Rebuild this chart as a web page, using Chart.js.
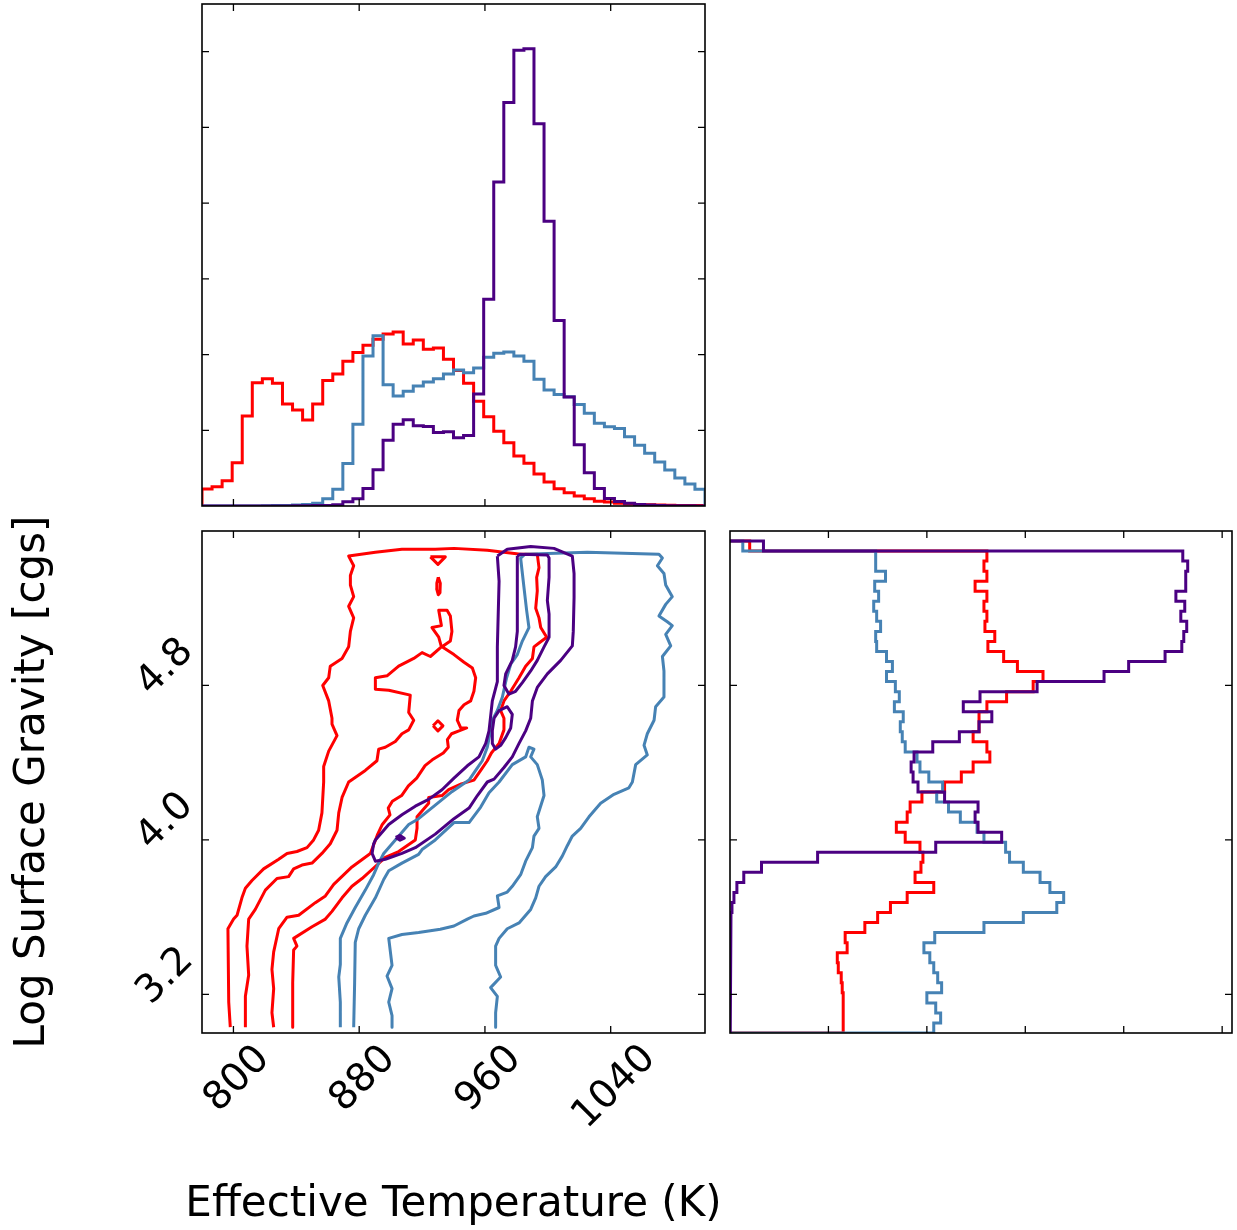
<!DOCTYPE html>
<html>
<head>
<meta charset="utf-8">
<script src="https://cdn.jsdelivr.net/npm/chart.js@4.4.0/dist/chart.umd.min.js"></script>
<style>
  body { margin: 0; background: #fff; width: 1237px; height: 1230px; position: relative; overflow: hidden; }
  canvas { position: absolute; }
</style>
</head>
<body>
<canvas id="teffHist" width="530" height="515" style="left:190px;top:0px"></canvas>
<canvas id="contour" width="720" height="720" style="left:0px;top:510px"></canvas>
<canvas id="loggHist" width="517" height="525" style="left:720px;top:520px"></canvas>
<script>
// tick values
const teffTicks = [800, 880, 960, 1040];
const loggTicks = [3.2, 4.0, 4.8];
const teffCountTicks = [1, 2, 3, 4, 5, 6];
const loggCountTicks = [1, 2, 3, 4, 5];

// Teff marginal histogram: 50 bins of 6.4 K starting at 780 K
const teffBinLo = 780, teffBinW = 6.4;
const teffHistRed = [0.225,0.255,0.335,0.572,1.189,1.629,1.682,1.620,1.347,1.268,
  1.136,1.347,1.656,1.744,1.911,2.026,2.122,2.202,2.272,2.299,
  2.140,2.193,2.070,2.087,1.937,1.788,1.620,1.383,1.180,0.986,
  0.837,0.660,0.564,0.423,0.317,0.229,0.176,0.132,0.097,0.062,
  0.053,0.035,0.026,0.020,0.018,0.012,0.010,0.008,0.006,0.005];
const teffHistBlue = [0,0,0,0,0,0,0.003,0.005,0.008,0.012,
  0.020,0.035,0.097,0.220,0.560,1.080,1.980,2.250,1.603,1.453,
  1.515,1.585,1.638,1.682,1.744,1.797,1.761,1.823,1.964,2.017,
  2.034,1.982,1.911,1.673,1.532,1.471,1.444,1.339,1.224,1.092,
  1.048,1.022,0.916,0.801,0.696,0.581,0.476,0.370,0.291,0.220];
const teffHistPurple = [0,0,0,0,0,0,0,0,0,0.002,
  0.003,0.005,0.008,0.018,0.057,0.097,0.230,0.480,0.870,1.080,
  1.140,1.060,1.050,0.970,0.980,0.900,0.930,1.480,2.730,4.280,
  5.330,6.020,6.040,5.050,3.760,2.450,1.440,0.810,0.440,0.230,
  0.100,0.060,0.035,0.020,0.012,0.006,0.004,0.003,0.002,0.001];

// log g marginal histogram: 49 bins of 0.052, listed from the top bin (5.548) downward
const loggBinHi = 5.548, loggBinW = 0.052;
const loggHistRed = [0.20,2.61,2.58,2.61,2.49,2.61,2.58,2.61,2.59,2.69,
  2.62,2.78,2.92,3.18,3.08,2.81,2.61,2.53,2.53,2.47,
  2.61,2.64,2.47,2.35,2.18,1.95,1.83,1.80,1.69,1.78,
  1.93,1.96,1.94,1.88,2.07,1.80,1.63,1.50,1.37,1.17,
  1.19,1.09,1.10,1.13,1.14,1.15,1.15,1.15,1.15];
const loggHistBlue = [0.13,1.48,1.48,1.58,1.47,1.51,1.46,1.49,1.53,1.48,
  1.49,1.59,1.65,1.59,1.68,1.72,1.67,1.76,1.73,1.75,
  1.78,1.90,1.93,2.02,2.16,2.10,2.22,2.34,2.51,2.58,
  2.80,2.84,2.98,3.15,3.25,3.39,3.32,2.98,2.58,2.08,
  1.97,2.03,2.07,2.11,2.15,2.00,2.09,2.14,2.07];
const loggHistPurple = [0.34,4.60,4.65,4.63,4.63,4.53,4.62,4.58,4.64,4.61,
  4.59,4.42,4.05,3.80,3.12,2.54,2.37,2.66,2.53,2.33,
  2.06,1.87,1.84,1.86,1.91,2.18,2.52,2.49,2.52,2.76,
  2.09,0.89,0.32,0.14,0.07,0.04,0.02,0.01,0.005,0.004,
  0.003,0.003,0.002,0.002,0.002,0.001,0.001,0.001,0.001];

// contour lines, [Teff, log g]
const redOuter = [[798.0,3.03],[797.0,3.16],[796.5,3.54],[800.1,3.59],[802.3,3.61],[805.4,3.70],[807.6,3.75],[811.8,3.79],[819.2,3.85],[828.8,3.90],[834.1,3.93],[840.4,3.94],[846.8,3.96],[851.0,4.00],[854.2,4.05],[856.3,4.14],[857.4,4.30],[857.4,4.38],[860.6,4.46],[865.9,4.54],[862.7,4.60],[862.7,4.63],[860.6,4.72],[856.8,4.80],[860.6,4.84],[861.6,4.90],[869.1,4.94],[873.3,5.00],[874.4,5.08],[876.5,5.15],[873.3,5.21],[876.5,5.26],[874.4,5.32],[874.4,5.37],[876.5,5.42],[873.3,5.47],[890.3,5.49],[907.2,5.505],[928.4,5.505],[940.3,5.51],[961.5,5.50],[982.7,5.48],[993.3,5.48],[994.4,5.41],[992.9,5.36],[993.3,5.29],[992.3,5.20],[994.4,5.15],[995.5,5.10],[999.3,5.05],[994.4,5.02],[991.2,5.00],[990.2,4.94],[985.9,4.90],[981.7,4.84],[976.4,4.77],[972.1,4.72],[970.0,4.67],[972.1,4.63],[972.1,4.57],[969.0,4.50],[964.1,4.45],[961.5,4.41],[957.3,4.36],[953.0,4.31],[945.0,4.29],[936.9,4.26],[932.7,4.23],[924.2,4.22],[924.2,4.19],[916.8,4.12],[916.8,4.06],[915.7,4.00],[905.1,3.94],[896.6,3.91],[891.3,3.87],[881.8,3.80],[875.4,3.76],[869.1,3.70],[862.7,3.63],[858.5,3.59],[850.0,3.55],[838.3,3.49],[840.4,3.45],[838.3,3.43],[837.7,3.26],[837.7,3.03]];
const redInner = [[807.6,3.03],[807.6,3.19],[809.7,3.30],[808.6,3.45],[809.7,3.59],[813.9,3.64],[820.3,3.74],[827.7,3.80],[835.1,3.81],[838.3,3.85],[843.6,3.87],[850.0,3.88],[856.3,3.93],[861.6,3.98],[865.9,4.05],[867.0,4.14],[869.1,4.22],[873.3,4.30],[883.9,4.36],[891.3,4.41],[892.4,4.47],[896.6,4.48],[903.0,4.51],[907.2,4.55],[911.5,4.57],[914.7,4.62],[911.5,4.66],[912.5,4.75],[898.8,4.775],[890.3,4.78],[890.3,4.84],[897.7,4.85],[905.1,4.90],[914.7,4.94],[920.0,4.97],[925.3,4.95],[932.3,5.00],[930.6,5.05],[926.3,5.10],[932.3,5.11],[930.6,5.19],[935.9,5.19],[938.0,5.16],[939.0,5.08],[938.0,5.03],[932.7,5.00],[940.3,4.96],[946.7,4.92],[952.0,4.89],[954.1,4.84],[953.0,4.77],[950.9,4.72],[946.7,4.70],[943.5,4.67],[942.4,4.62],[944.6,4.58],[948.4,4.58],[943.5,4.565],[938.8,4.55],[936.1,4.52],[936.7,4.48],[933.5,4.45],[926.5,4.415],[921.9,4.385],[916.6,4.32],[911.3,4.28],[907.0,4.23],[901.1,4.20],[898.5,4.165],[899.6,4.13],[894.7,4.08],[891.8,4.03],[887.1,3.93],[875.4,3.86],[863.8,3.77],[858.5,3.71],[852.1,3.675],[841.5,3.61],[834.1,3.60],[828.8,3.54],[825.6,3.42],[824.5,3.33],[825.6,3.23],[824.5,3.105],[825.6,3.03]];
const redTri = [[925.3,5.466],[934.8,5.466],[930.1,5.427]];
const redDash = [[930.3,5.36],[931.6,5.33],[931.4,5.28],[930.3,5.27],[929.3,5.30],[929.4,5.33]];
const redDiamond = [[927.0,4.591],[930.1,4.617],[933.3,4.591],[930.1,4.565]];
const blueOuter = [[868.0,3.03],[868.0,3.16],[867.0,3.29],[868.0,3.355],[868.0,3.49],[872.2,3.57],[877.5,3.65],[883.9,3.74],[889.2,3.82],[892.4,3.88],[895.6,3.93],[903.0,4.00],[911.5,4.08],[917.8,4.11],[928.4,4.18],[939.0,4.25],[949.9,4.31],[954.1,4.36],[958.3,4.41],[961.5,4.48],[963.2,4.55],[964.7,4.62],[967.9,4.67],[971.1,4.74],[973.8,4.84],[976.4,4.91],[980.6,4.96],[983.8,5.03],[988.0,5.10],[986.5,5.19],[984.8,5.31],[982.7,5.46],[985.5,5.48],[1025.1,5.49],[1070.7,5.48],[1072.9,5.46],[1069.7,5.42],[1073.9,5.38],[1075.0,5.32],[1079.2,5.26],[1075.0,5.22],[1070.7,5.16],[1076.0,5.13],[1079.2,5.11],[1075.0,5.065],[1078.2,5.005],[1072.9,4.95],[1073.9,4.875],[1073.9,4.74],[1068.6,4.69],[1067.6,4.62],[1063.3,4.55],[1061.2,4.49],[1063.3,4.44],[1055.9,4.39],[1053.8,4.30],[1051.6,4.27],[1042.1,4.236],[1033.6,4.19],[1026.2,4.12],[1020.9,4.06],[1015.6,4.02],[1012.4,3.97],[1009.2,3.916],[1005.0,3.86],[998.6,3.81],[994.4,3.76],[992.3,3.70],[989.1,3.64],[981.7,3.57],[974.2,3.54],[969.0,3.49],[966.8,3.45],[966.8,3.35],[970.0,3.29],[963.6,3.235],[967.9,3.19],[966.8,3.105],[966.8,3.03]];
const blueInner = [[876.5,3.03],[877.1,3.26],[877.5,3.47],[879.7,3.54],[883.9,3.61],[890.3,3.70],[895.6,3.795],[898.8,3.84],[907.2,3.88],[917.8,3.925],[920.0,3.95],[928.4,4.00],[940.3,4.09],[949.9,4.09],[957.3,4.17],[962.6,4.244],[969.0,4.30],[977.4,4.39],[985.9,4.43],[988.0,4.48],[991.2,4.47],[989.1,4.43],[993.3,4.39],[996.5,4.31],[997.6,4.23],[993.3,4.12],[994.4,4.06],[991.2,4.02],[990.2,3.96],[985.9,3.89],[982.7,3.82],[977.4,3.76],[974.2,3.73],[967.9,3.71],[969.0,3.65],[960.5,3.62],[953.0,3.606],[948.8,3.59],[940.3,3.554],[931.6,3.537],[917.8,3.52],[907.2,3.51],[898.8,3.49],[900.9,3.35],[897.7,3.295],[900.9,3.23],[898.8,3.16],[900.9,3.09],[900.9,3.03]];
const purpleOuter = [[967.9,5.47],[974.2,5.505],[989.1,5.52],[1003.9,5.51],[1015.6,5.47],[1016.7,5.38],[1016.7,5.255],[1016.2,5.08],[1015.6,5.005],[1008.2,4.93],[999.7,4.86],[993.3,4.79],[990.2,4.72],[989.1,4.63],[985.9,4.565],[981.7,4.50],[977.4,4.43],[972.1,4.375],[965.8,4.315],[961.5,4.30],[955.2,4.23],[949.9,4.165],[940.3,4.11],[928.4,4.03],[915.7,3.96],[907.2,3.93],[896.6,3.90],[890.3,3.89],[888.2,3.93],[889.2,3.98],[890.3,4.00],[898.8,4.08],[907.2,4.13],[915.7,4.175],[924.2,4.21],[932.7,4.26],[940.3,4.32],[948.8,4.384],[956.2,4.43],[960.5,4.50],[962.6,4.565],[964.7,4.72],[967.9,4.82],[967.9,5.00],[969.0,5.34]];
const purpleInner = [[980.6,5.47],[982.7,5.48],[999.7,5.476],[1000.8,5.46],[1000.8,5.36],[999.7,5.24],[1000.8,5.17],[1000.8,5.05],[997.6,5.00],[993.3,4.93],[989.1,4.875],[983.8,4.815],[979.5,4.77],[975.3,4.755],[972.1,4.80],[973.2,4.86],[977.4,4.93],[979.5,5.00],[980.6,5.08],[980.6,5.255],[980.6,5.39]];
const purpleSmall = [[965.8,4.63],[969.0,4.67],[974.2,4.69],[977.4,4.65],[976.4,4.58],[973.2,4.53],[970.0,4.49],[966.8,4.47],[964.7,4.50],[964.7,4.565]];
const purpleDot = [[903.2,4.013],[906.0,4.023],[908.7,4.009],[906.0,3.999]];

const RED = '#ff0000', BLUE = '#4682b4', PURPLE = '#4b0082';

function stepAlongX(vals, lo, w) {
  const pts = [{ x: lo, y: 0 }];
  vals.forEach((v, i) => pts.push({ x: lo + i * w, y: v }, { x: lo + (i + 1) * w, y: v }));
  pts.push({ x: lo + vals.length * w, y: 0 });
  return pts;
}
function stepAlongY(vals, hi, w) {
  const pts = [{ x: 0, y: hi }];
  vals.forEach((v, i) => pts.push({ x: v, y: hi - i * w }, { x: v, y: hi - (i + 1) * w }));
  pts.push({ x: 0, y: hi - vals.length * w });
  return pts;
}
function toPoints(arr, closed) {
  const pts = arr.map(p => ({ x: p[0], y: p[1] }));
  if (closed) pts.push({ x: arr[0][0], y: arr[0][1] });
  return pts;
}
function lineSet(pts, color, order, join) {
  return {
    data: pts, showLine: true, borderColor: color, backgroundColor: color,
    borderWidth: 3, pointRadius: 0, pointHoverRadius: 0, tension: 0,
    fill: false, order: order, borderJoinStyle: join || 'round'
  };
}

const FONT = '"DejaVu Sans"';
const framePlugin = {
  id: 'frame',
  afterDatasetsDraw(chart, args, o) {
    const { ctx, chartArea: a } = chart;
    const sx = chart.scales.x, sy = chart.scales.y;
    ctx.save();
    ctx.strokeStyle = '#000';
    ctx.lineWidth = 1.3;
    ctx.beginPath();
    o.xTicks.forEach(v => {
      const p = sx.getPixelForValue(v);
      ctx.moveTo(p, a.bottom); ctx.lineTo(p, a.bottom - 7);
      ctx.moveTo(p, a.top); ctx.lineTo(p, a.top + 7);
    });
    o.yTicks.forEach(v => {
      const p = sy.getPixelForValue(v);
      ctx.moveTo(a.left, p); ctx.lineTo(a.left + 7, p);
      ctx.moveTo(a.right, p); ctx.lineTo(a.right - 7, p);
    });
    ctx.stroke();
    ctx.lineWidth = 1.6;
    ctx.strokeRect(a.left, a.top, a.right - a.left, a.bottom - a.top);

    if (o.labels) {
      ctx.fillStyle = '#000';
      const size = 39, capH = 0.73 * size;
      ctx.font = size + 'px ' + FONT;
      ctx.textAlign = 'center';
      ctx.textBaseline = 'alphabetic';
      o.xTicks.forEach(v => {
        const t = String(v);
        const box = (ctx.measureText(t).width * 0.93 + capH) / Math.SQRT2;
        ctx.save();
        ctx.translate(sx.getPixelForValue(v) + 1, a.bottom + 9 + box / 2);
        ctx.rotate(-Math.PI / 4);
        ctx.fillText(t, 0, capH / 2);
        ctx.restore();
      });
      o.yTicks.forEach(v => {
        const t = v.toFixed(1);
        const box = (ctx.measureText(t).width * 0.93 + capH) / Math.SQRT2;
        ctx.save();
        ctx.translate(a.left - 9 - box / 2, sy.getPixelForValue(v) - 21);
        ctx.rotate(-Math.PI / 4);
        ctx.fillText(t, 0, capH / 2);
        ctx.restore();
      });
      ctx.font = '42px ' + FONT;
      ctx.fillText(o.xTitle, (a.left + a.right) / 2, a.bottom + 183);
      ctx.save();
      ctx.translate(29, (a.top + a.bottom) / 2);
      ctx.rotate(-Math.PI / 2);
      ctx.fillText(o.yTitle, 0, 15);
      ctx.restore();
    }
    ctx.restore();
  }
};

function makeChart(id, datasets, xr, yr, padding, frame) {
  return new Chart(document.getElementById(id), {
    type: 'scatter',
    data: { datasets },
    options: {
      responsive: false,
      maintainAspectRatio: false,
      animation: false,
      devicePixelRatio: 1,
      events: [],
      layout: { padding },
      plugins: { legend: { display: false }, tooltip: { enabled: false }, frame },
      scales: {
        x: { type: 'linear', min: xr[0], max: xr[1], display: false },
        y: { type: 'linear', min: yr[0], max: yr[1], display: false }
      }
    },
    plugins: [framePlugin]
  });
}

makeChart('teffHist', [
  lineSet(stepAlongX(teffHistRed, teffBinLo, teffBinW), RED, 3, 'miter'),
  lineSet(stepAlongX(teffHistBlue, teffBinLo, teffBinW), BLUE, 2, 'miter'),
  lineSet(stepAlongX(teffHistPurple, teffBinLo, teffBinW), PURPLE, 1, 'miter')
], [780, 1100], [0, 6.63], { left: 12, top: 4, right: 15, bottom: 9 },
  { xTicks: teffTicks, yTicks: teffCountTicks, labels: false });

makeChart('contour', [
  lineSet(toPoints(redOuter, false), RED, 3),
  lineSet(toPoints(redInner, false), RED, 3),
  lineSet(toPoints(redTri, true), RED, 3),
  lineSet(toPoints(redDash, true), RED, 3),
  lineSet(toPoints(redDiamond, true), RED, 3),
  lineSet(toPoints(blueOuter, false), BLUE, 2),
  lineSet(toPoints(blueInner, false), BLUE, 2),
  lineSet(toPoints(purpleOuter, true), PURPLE, 1),
  lineSet(toPoints(purpleInner, true), PURPLE, 1),
  lineSet(toPoints(purpleSmall, true), PURPLE, 1),
  lineSet(toPoints(purpleDot, true), PURPLE, 1)
], [780, 1100], [3.0, 5.6], { left: 202, top: 21, right: 15, bottom: 197 },
  { xTicks: teffTicks, yTicks: loggTicks, labels: true,
    xTitle: 'Effective Temperature (K)', yTitle: 'Log Surface Gravity [cgs]' });

makeChart('loggHist', [
  lineSet(stepAlongY(loggHistRed, loggBinHi, loggBinW), RED, 3, 'miter'),
  lineSet(stepAlongY(loggHistBlue, loggBinHi, loggBinW), BLUE, 2, 'miter'),
  lineSet(stepAlongY(loggHistPurple, loggBinHi, loggBinW), PURPLE, 1, 'miter')
], [0, 5.10], [3.0, 5.6], { left: 10, top: 11, right: 5, bottom: 12 },
  { xTicks: loggCountTicks, yTicks: loggTicks, labels: false });
</script>
</body>
</html>
